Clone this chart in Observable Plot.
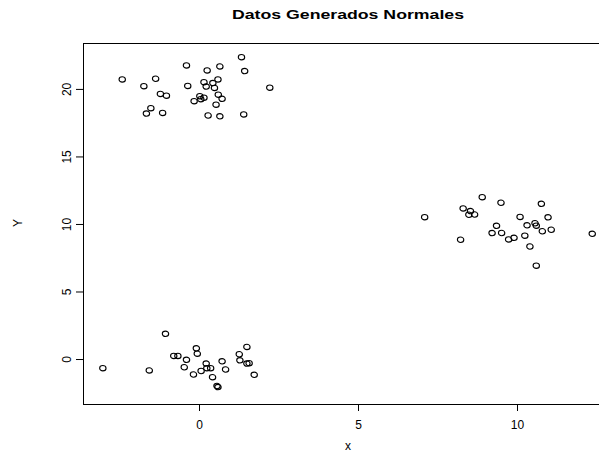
<!DOCTYPE html>
<html>
<head>
<meta charset="utf-8">
<script src="https://cdn.jsdelivr.net/npm/d3@7"></script>
<script src="https://cdn.jsdelivr.net/npm/@observablehq/plot@0.6"></script>
<style>
  html, body { margin: 0; padding: 0; background: #fff; overflow: hidden; width: 599px; height: 452px; }
  #chart { width: 640px; }
  #chart svg { overflow: visible; display: block; max-width: none !important; width: 640px; height: 452px; }
</style>
</head>
<body>
<div id="chart"></div>
<script>
const title = "Datos Generados Normales";
const xLabel = "x";
const yLabel = "Y";
const xTicks = [0, 5, 10];
const yTicks = [0, 5, 10, 15, 20];

const topX = [1.32, -0.41, 0.64, 0.24, 1.42, -2.43, -1.38, -1.75, -0.37, 0.14, 0.58, 0.42, 0.21, 0.47, 2.21, -1.23, -1.04, 0.59, 0.71, 0.01, 0.14, 0.04, -0.17, 0.52, -1.53, -1.67, -1.16, 0.27, 0.64, 1.39];
const topY = [22.39, 21.78, 21.70, 21.41, 21.36, 20.74, 20.79, 20.24, 20.26, 20.54, 20.74, 20.47, 20.21, 20.11, 20.13, 19.67, 19.54, 19.61, 19.30, 19.50, 19.39, 19.28, 19.13, 18.87, 18.61, 18.21, 18.26, 18.07, 18.01, 18.15];

const rightX = [8.89, 9.48, 10.75, 7.08, 8.29, 8.52, 8.47, 8.65, 10.08, 10.96, 9.34, 10.30, 10.55, 10.59, 9.20, 9.50, 10.78, 11.06, 9.72, 9.89, 10.23, 12.35, 8.21, 10.39, 10.59];
const rightY = [12.02, 11.61, 11.53, 10.54, 11.19, 10.99, 10.72, 10.74, 10.56, 10.53, 9.90, 9.94, 10.09, 9.91, 9.36, 9.37, 9.50, 9.61, 8.89, 9.01, 9.17, 9.31, 8.87, 8.37, 6.95];

const bottomX = [-1.07, -3.04, -1.58, -0.81, -0.68, -0.10, -0.07, -0.41, -0.48, -0.19, 0.05, 0.21, 0.23, 0.35, 0.41, 0.71, 0.82, 1.25, 1.49, 1.27, 1.49, 1.56, 1.72, 0.55, 0.58];
const bottomY = [1.90, -0.64, -0.81, 0.27, 0.27, 0.83, 0.43, -0.02, -0.57, -1.11, -0.85, -0.30, -0.64, -0.64, -1.31, -0.13, -0.74, 0.39, 0.93, -0.06, -0.30, -0.27, -1.13, -1.96, -2.04];

const allX = [...topX, ...rightX, ...bottomX];
const allY = [...topY, ...rightY, ...bottomY];
const points = allX.map((x, i) => ({x, y: allY[i]}));

const font = "'Liberation Sans', Arial, Helvetica, sans-serif";

// open circle slightly wider than tall, like the stretched R pch = 1
const ellipseSymbol = {
  draw(context) {
    const rx = 3.2, ry = 2.7, k = 0.5523;
    context.moveTo(rx, 0);
    context.bezierCurveTo(rx, k * ry, k * rx, ry, 0, ry);
    context.bezierCurveTo(-k * rx, ry, -rx, k * ry, -rx, 0);
    context.bezierCurveTo(-rx, -k * ry, -k * rx, -ry, 0, -ry);
    context.bezierCurveTo(k * rx, -ry, rx, -k * ry, rx, 0);
    context.closePath();
  }
};

const chart = Plot.plot({
  width: 640,
  height: 452,
  marginLeft: 83,
  marginRight: 28,
  marginTop: 43,
  marginBottom: 48,
  style: { fontFamily: font, fontSize: "12px", background: "#fff", color: "#000", maxWidth: "none" },
  x: { domain: [-3.648, 12.987] },
  y: { domain: [-3.33, 23.4] },
  marks: [
    Plot.frame({ stroke: "#000", strokeWidth: 1 }),
    Plot.axisX({ ticks: xTicks, tickSize: 7, tickPadding: 9, label: null, fontSize: 12, tickFormat: d => String(d) }),
    Plot.axisY({ ticks: yTicks, tickSize: 7, tickPadding: 6, tickRotate: -90, label: null, fontSize: 12, tickFormat: d => String(d) }),
    Plot.dot(points, { x: "x", y: "y", symbol: ellipseSymbol, stroke: "#000", strokeWidth: 1.1, fill: "none" }),
    Plot.text([title], { frameAnchor: "top", dy: -34, fontWeight: "bold", fontSize: 13 }),
    Plot.text([xLabel], { frameAnchor: "bottom", dy: 45, fontSize: 12 }),
    Plot.text([yLabel], { frameAnchor: "left", dx: -65, dy: 3, rotate: -90, fontSize: 12 })
  ]
});
document.getElementById("chart").appendChild(chart);

// the reference title is drawn horizontally stretched
d3.select(chart).selectAll("text")
  .filter(function () { return this.textContent === title; })
  .attr("textLength", 232)
  .attr("lengthAdjust", "spacingAndGlyphs");
</script>
</body>
</html>
